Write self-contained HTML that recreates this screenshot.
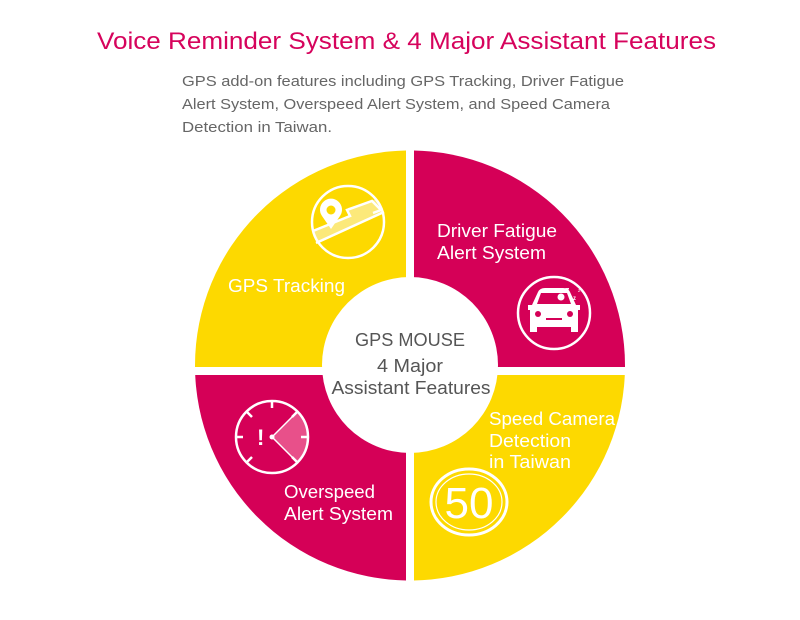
<!DOCTYPE html>
<html><head><meta charset="utf-8"><style>
html,body{margin:0;padding:0;background:#fff;}
svg{display:block;font-family:"Liberation Sans",sans-serif;}
</style></head><body>
<svg width="800" height="620" viewBox="0 0 800 620" xmlns="http://www.w3.org/2000/svg">
<rect width="800" height="620" fill="#fff"/>
<text x="97" y="49" font-size="24" fill="#D6035C" textLength="619" lengthAdjust="spacingAndGlyphs">Voice Reminder System &amp; 4 Major Assistant Features</text>
<g font-size="15" fill="#666">
<text x="182" y="86" textLength="442" lengthAdjust="spacingAndGlyphs">GPS add-on features including GPS Tracking, Driver Fatigue</text>
<text x="182" y="109" textLength="428" lengthAdjust="spacingAndGlyphs">Alert System, Overspeed Alert System, and Speed Camera</text>
<text x="182" y="132" textLength="150" lengthAdjust="spacingAndGlyphs">Detection in Taiwan.</text>
</g>
<defs>
<clipPath id="tl"><rect x="0" y="0" width="406" height="367"/></clipPath>
<clipPath id="tr"><rect x="414" y="0" width="400" height="367"/></clipPath>
<clipPath id="bl"><rect x="0" y="375" width="406" height="300"/></clipPath>
<clipPath id="br"><rect x="414" y="375" width="400" height="300"/></clipPath>
</defs>
<circle cx="410" cy="365.5" r="215" fill="#FDD900" clip-path="url(#tl)"/>
<circle cx="410" cy="365.5" r="215" fill="#D50057" clip-path="url(#tr)"/>
<circle cx="410" cy="365.5" r="215" fill="#D50057" clip-path="url(#bl)"/>
<circle cx="410" cy="365.5" r="215" fill="#FDD900" clip-path="url(#br)"/>
<circle cx="410" cy="365" r="88" fill="#fff"/>
<g font-size="18" fill="#555" text-anchor="middle">
<text x="410" y="346" textLength="110" lengthAdjust="spacingAndGlyphs">GPS MOUSE</text>
<text x="410" y="372" textLength="66" lengthAdjust="spacingAndGlyphs">4 Major</text>
<text x="411" y="394" textLength="159" lengthAdjust="spacingAndGlyphs">Assistant Features</text>
</g>
<g font-size="18" fill="#fff" lengthAdjust="spacingAndGlyphs">
<text x="228" y="292" textLength="117" lengthAdjust="spacingAndGlyphs">GPS Tracking</text>
<text x="437" y="237" textLength="120" lengthAdjust="spacingAndGlyphs">Driver Fatigue</text>
<text x="437" y="259" textLength="109" lengthAdjust="spacingAndGlyphs">Alert System</text>
<text x="489" y="425" textLength="126" lengthAdjust="spacingAndGlyphs">Speed Camera</text>
<text x="489" y="447" textLength="82" lengthAdjust="spacingAndGlyphs">Detection</text>
<text x="489" y="468" textLength="82" lengthAdjust="spacingAndGlyphs">in Taiwan</text>
<text x="284" y="498" textLength="91" lengthAdjust="spacingAndGlyphs">Overspeed</text>
<text x="284" y="520" textLength="109" lengthAdjust="spacingAndGlyphs">Alert System</text>
</g>
<!-- GPS icon -->
<path d="M313 230 L350 215 L348 208 L377 199 L383 212 L318 242 Z" fill="#FCE97A"/>
<g stroke="#fff" stroke-width="2.5" fill="none">
<circle cx="348" cy="222" r="36"/>
<path d="M313 231 L350 216 L347 210 L372 201 L381 210 L373 213"/>
<path d="M316 243 L384 212"/>
</g>
<path d="M331 229 L322 216 A11 11 0 1 1 340 216 Z" fill="#fff"/>
<circle cx="331" cy="210" r="4.5" fill="#FDD900"/>
<!-- Car icon -->
<g stroke="#fff" stroke-width="2.5" fill="none"><circle cx="554" cy="313" r="36"/></g>
<path d="M532 305 L538 292 Q540 288 545 288 L563 288 Q568 288 570 292 L576 305 L580 305 L580 310 L578 310 L578 332 L571 332 L571 327 L537 327 L537 332 L530 332 L530 310 L528 310 L528 305 Z" fill="#fff"/>
<path d="M537 304 L541 293 L567 293 L571 304 Z" fill="#D50057"/>
<circle cx="561" cy="297" r="3.5" fill="#fff"/>
<circle cx="538" cy="314" r="3" fill="#D50057"/><circle cx="570" cy="314" r="3" fill="#D50057"/>
<rect x="546" y="318" width="16" height="2" fill="#D50057"/>
<text x="565" y="293" font-size="9" fill="#fff" font-weight="bold">z</text>
<text x="573" y="300" font-size="6" fill="#fff" font-weight="bold">z</text>
<text x="578" y="292" font-size="5" fill="#fff">z</text>
<!-- Gauge icon -->
<path d="M272 437 L298 411 A36 36 0 0 1 298 463 Z" fill="#E8508A"/>
<g stroke="#fff" stroke-width="2.5" fill="none">
<circle cx="272" cy="437" r="36"/>
<path d="M272 401 V408 M236 437 H243 M301 437 H308 M247 412 L252 417 M297 412 L292 417 M247 462 L252 457 M297 462 L292 457"/>
<path d="M272 437 L298 411 M272 437 L298 463" stroke-width="1.5"/>
</g>
<circle cx="272" cy="437" r="2.5" fill="#fff"/>
<text x="257" y="445" font-size="22" font-weight="bold" fill="#fff">!</text>
<!-- 50 sign -->
<ellipse cx="469" cy="502" rx="38" ry="33" fill="none" stroke="#fff" stroke-width="3"/>
<ellipse cx="469" cy="502" rx="33" ry="28" fill="none" stroke="#fff" stroke-width="1.2"/>
<text x="469" y="518" font-size="44" fill="#fff" text-anchor="middle">50</text>
</svg>
</body></html>
